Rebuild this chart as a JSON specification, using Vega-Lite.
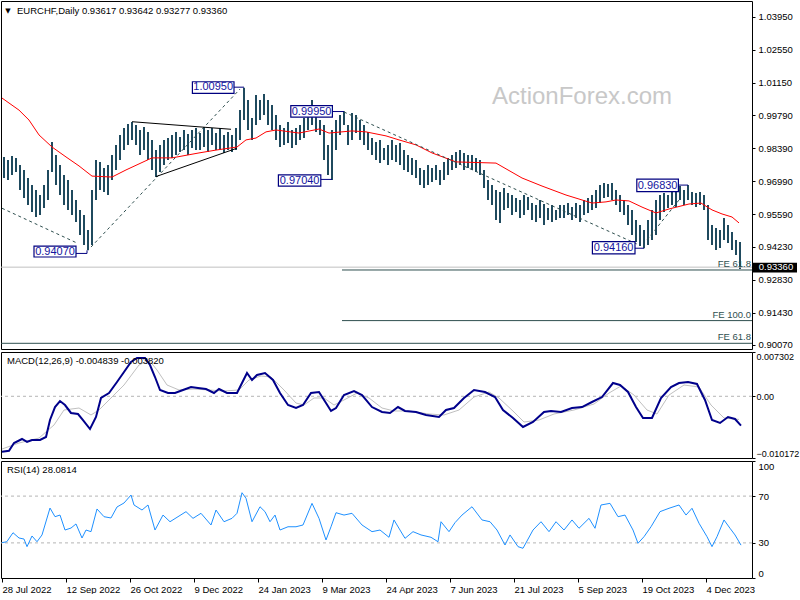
{
"$schema": "https://vega.github.io/schema/vega-lite/v6.json",
"background": "white",
"padding": {"left": -3, "top": 0, "right": 0, "bottom": 0},
"autosize": {"type": "pad"},
"spacing": 3,
"bounds": "flush",
"config": {
  "font": "Liberation Sans",
  "padding": {"left": -3, "top": 0, "right": 0, "bottom": 0},
  "view": {"stroke": "#000000", "strokeWidth": 1},
  "axis": {"labelFont": "Liberation Sans", "labelFontSize": 9.5, "labelColor": "#000000", "tickColor": "#000000", "tickSize": 3, "domain": false, "grid": false, "labelPadding": 3, "labelOverlap": false}
},
"datasets": {
  "bars": [
    {"d":1,"h":0.9802,"l":0.9713},{"d":3,"h":0.9789,"l":0.9705},{"d":5,"h":0.9806,"l":0.9726},{"d":7,"h":0.9798,"l":0.9738},
    {"d":9,"h":0.9768,"l":0.9662},{"d":11,"h":0.9747,"l":0.9628},{"d":13,"h":0.9713,"l":0.9599},{"d":15,"h":0.9683,"l":0.9569},
    {"d":17,"h":0.9662,"l":0.9548},{"d":19,"h":0.9641,"l":0.9557},{"d":21,"h":0.9683,"l":0.9586},{"d":23,"h":0.9747,"l":0.9620},
    {"d":25,"h":0.9865,"l":0.9738},{"d":27,"h":0.9810,"l":0.9683},{"d":29,"h":0.9768,"l":0.9641},{"d":31,"h":0.9726,"l":0.9599},
    {"d":33,"h":0.9705,"l":0.9578},{"d":35,"h":0.9662,"l":0.9557},{"d":37,"h":0.9620,"l":0.9527},{"d":39,"h":0.9578,"l":0.9472},
    {"d":41,"h":0.9557,"l":0.9430},{"d":43,"h":0.9493,"l":0.9407},{"d":45,"h":0.9662,"l":0.9430},{"d":47,"h":0.9789,"l":0.9620},
    {"d":49,"h":0.9781,"l":0.9662},{"d":51,"h":0.9755,"l":0.9654},{"d":53,"h":0.9768,"l":0.9641},{"d":55,"h":0.9810,"l":0.9705},
    {"d":57,"h":0.9853,"l":0.9747},{"d":59,"h":0.9895,"l":0.9789},{"d":61,"h":0.9924,"l":0.9831},{"d":63,"h":0.9941,"l":0.9853},
    {"d":65,"h":0.9950,"l":0.9874},{"d":67,"h":0.9937,"l":0.9853},{"d":69,"h":0.9916,"l":0.9810},{"d":71,"h":0.9929,"l":0.9831},
    {"d":73,"h":0.9908,"l":0.9789},{"d":75,"h":0.9874,"l":0.9747},{"d":77,"h":0.9831,"l":0.9717},{"d":79,"h":0.9853,"l":0.9738},
    {"d":81,"h":0.9874,"l":0.9768},{"d":83,"h":0.9882,"l":0.9789},{"d":85,"h":0.9895,"l":0.9798},{"d":87,"h":0.9908,"l":0.9810},
    {"d":89,"h":0.9886,"l":0.9823},{"d":91,"h":0.9916,"l":0.9831},{"d":93,"h":0.9899,"l":0.9810},{"d":95,"h":0.9916,"l":0.9840},
    {"d":97,"h":0.9924,"l":0.9831},{"d":99,"h":0.9903,"l":0.9831},{"d":101,"h":0.9929,"l":0.9844},{"d":103,"h":0.9916,"l":0.9823},
    {"d":105,"h":0.9924,"l":0.9853},{"d":107,"h":0.9903,"l":0.9831},{"d":109,"h":0.9924,"l":0.9831},{"d":111,"h":0.9895,"l":0.9819},
    {"d":113,"h":0.9908,"l":0.9831},{"d":115,"h":0.9895,"l":0.9823},{"d":117,"h":0.9924,"l":0.9831},{"d":119,"h":1.0001,"l":0.9874},
    {"d":121,"h":1.0095,"l":0.9958},{"d":123,"h":1.0043,"l":0.9916},{"d":125,"h":0.9967,"l":0.9874},{"d":127,"h":1.0064,"l":0.9937},
    {"d":129,"h":1.0043,"l":0.9958},{"d":131,"h":1.0068,"l":0.9979},{"d":133,"h":1.0043,"l":0.9937},{"d":135,"h":1.0022,"l":0.9916},
    {"d":137,"h":0.9979,"l":0.9874},{"d":139,"h":0.9937,"l":0.9844},{"d":141,"h":0.9924,"l":0.9853},{"d":143,"h":0.9950,"l":0.9861},
    {"d":145,"h":0.9916,"l":0.9840},{"d":147,"h":0.9924,"l":0.9853},{"d":149,"h":0.9937,"l":0.9874},{"d":151,"h":0.9967,"l":0.9882},
    {"d":153,"h":0.9992,"l":0.9916},{"d":155,"h":1.0043,"l":0.9937},{"d":157,"h":0.9979,"l":0.9908},{"d":159,"h":0.9958,"l":0.9895},
    {"d":161,"h":0.9937,"l":0.9789},{"d":163,"h":0.9853,"l":0.9726},{"d":165,"h":0.9916,"l":0.9704},{"d":167,"h":0.9958,"l":0.9831},
    {"d":169,"h":0.9979,"l":0.9895},{"d":171,"h":0.9995,"l":0.9937},{"d":173,"h":0.9937,"l":0.9853},{"d":175,"h":0.9988,"l":0.9874},
    {"d":177,"h":0.9979,"l":0.9903},{"d":179,"h":0.9958,"l":0.9874},{"d":181,"h":0.9937,"l":0.9853},{"d":183,"h":0.9908,"l":0.9831},
    {"d":185,"h":0.9882,"l":0.9810},{"d":187,"h":0.9865,"l":0.9789},{"d":189,"h":0.9874,"l":0.9776},{"d":191,"h":0.9840,"l":0.9789},
    {"d":193,"h":0.9853,"l":0.9768},{"d":195,"h":0.9874,"l":0.9789},{"d":197,"h":0.9853,"l":0.9781},{"d":199,"h":0.9861,"l":0.9768},
    {"d":201,"h":0.9831,"l":0.9747},{"d":203,"h":0.9810,"l":0.9738},{"d":205,"h":0.9798,"l":0.9726},{"d":207,"h":0.9789,"l":0.9713},
    {"d":209,"h":0.9755,"l":0.9683},{"d":211,"h":0.9747,"l":0.9671},{"d":213,"h":0.9768,"l":0.9683},{"d":215,"h":0.9755,"l":0.9696},
    {"d":217,"h":0.9768,"l":0.9705},{"d":219,"h":0.9747,"l":0.9683},{"d":221,"h":0.9781,"l":0.9705},{"d":223,"h":0.9798,"l":0.9726},
    {"d":225,"h":0.9810,"l":0.9747},{"d":227,"h":0.9823,"l":0.9755},{"d":229,"h":0.9831,"l":0.9768},{"d":231,"h":0.9819,"l":0.9747},
    {"d":233,"h":0.9810,"l":0.9755},{"d":235,"h":0.9810,"l":0.9747},{"d":237,"h":0.9798,"l":0.9738},{"d":239,"h":0.9789,"l":0.9726},
    {"d":241,"h":0.9747,"l":0.9671},{"d":243,"h":0.9705,"l":0.9620},{"d":245,"h":0.9683,"l":0.9599},{"d":247,"h":0.9662,"l":0.9535},
    {"d":249,"h":0.9654,"l":0.9523},{"d":251,"h":0.9671,"l":0.9578},{"d":253,"h":0.9650,"l":0.9586},{"d":255,"h":0.9641,"l":0.9557},
    {"d":257,"h":0.9628,"l":0.9569},{"d":259,"h":0.9620,"l":0.9544},{"d":261,"h":0.9641,"l":0.9557},{"d":263,"h":0.9633,"l":0.9578},
    {"d":265,"h":0.9607,"l":0.9535},{"d":267,"h":0.9599,"l":0.9527},{"d":269,"h":0.9620,"l":0.9544},{"d":271,"h":0.9603,"l":0.9514},
    {"d":273,"h":0.9586,"l":0.9535},{"d":275,"h":0.9599,"l":0.9527},{"d":277,"h":0.9578,"l":0.9535},{"d":279,"h":0.9599,"l":0.9544},
    {"d":281,"h":0.9599,"l":0.9544},{"d":283,"h":0.9607,"l":0.9557},{"d":285,"h":0.9590,"l":0.9535},{"d":287,"h":0.9607,"l":0.9544},
    {"d":289,"h":0.9599,"l":0.9527},{"d":291,"h":0.9620,"l":0.9557},{"d":293,"h":0.9628,"l":0.9565},{"d":295,"h":0.9641,"l":0.9578},
    {"d":297,"h":0.9662,"l":0.9586},{"d":299,"h":0.9683,"l":0.9607},{"d":301,"h":0.9692,"l":0.9628},{"d":303,"h":0.9688,"l":0.9633},
    {"d":305,"h":0.9692,"l":0.9620},{"d":307,"h":0.9662,"l":0.9599},{"d":309,"h":0.9641,"l":0.9569},{"d":311,"h":0.9620,"l":0.9557},
    {"d":313,"h":0.9599,"l":0.9514},{"d":315,"h":0.9578,"l":0.9472},{"d":317,"h":0.9535,"l":0.9442},{"d":319,"h":0.9514,"l":0.9425},
    {"d":321,"h":0.9493,"l":0.9416},{"d":323,"h":0.9535,"l":0.9430},{"d":325,"h":0.9578,"l":0.9451},{"d":327,"h":0.9620,"l":0.9472},
    {"d":329,"h":0.9641,"l":0.9535},{"d":331,"h":0.9650,"l":0.9569},{"d":333,"h":0.9641,"l":0.9586},{"d":335,"h":0.9662,"l":0.9599},
    {"d":337,"h":0.9654,"l":0.9590},{"d":339,"h":0.9679,"l":0.9620},{"d":341,"h":0.9662,"l":0.9599},{"d":343,"h":0.9683,"l":0.9620},
    {"d":345,"h":0.9654,"l":0.9599},{"d":347,"h":0.9650,"l":0.9590},{"d":349,"h":0.9654,"l":0.9599},{"d":351,"h":0.9641,"l":0.9578},
    {"d":353,"h":0.9599,"l":0.9451},{"d":355,"h":0.9514,"l":0.9430},{"d":357,"h":0.9502,"l":0.9408},{"d":359,"h":0.9493,"l":0.9417},
    {"d":361,"h":0.9544,"l":0.9451},{"d":363,"h":0.9514,"l":0.9438},{"d":365,"h":0.9485,"l":0.9408},{"d":367,"h":0.9451,"l":0.9387},
    {"d":369,"h":0.9442,"l":0.9328}
  ],
  "ma": [
    {"d":0,"v":1.0051},{"d":8.5,"v":1.0000},{"d":13.5,"v":0.9958},{"d":18.5,"v":0.9895},{"d":25,"v":0.9844},{"d":32,"v":0.9802},
    {"d":38.5,"v":0.9764},{"d":45,"v":0.9721},{"d":55,"v":0.9717},{"d":62,"v":0.9747},{"d":75,"v":0.9798},{"d":85,"v":0.9798},
    {"d":98.5,"v":0.9819},{"d":107,"v":0.9831},{"d":117.5,"v":0.9844},{"d":122,"v":0.9874},{"d":127,"v":0.9882},{"d":132,"v":0.9908},
    {"d":137,"v":0.9916},{"d":148.5,"v":0.9903},{"d":158.5,"v":0.9920},{"d":163.5,"v":0.9903},{"d":175,"v":0.9912},{"d":182,"v":0.9908},
    {"d":192,"v":0.9891},{"d":198.5,"v":0.9874},{"d":207,"v":0.9853},{"d":215,"v":0.9819},{"d":227,"v":0.9781},{"d":247,"v":0.9776},
    {"d":260,"v":0.9713},{"d":270,"v":0.9679},{"d":282,"v":0.9641},{"d":295,"v":0.9607},{"d":302,"v":0.9612},{"d":307,"v":0.9620},
    {"d":313.5,"v":0.9616},{"d":320,"v":0.9590},{"d":327,"v":0.9565},{"d":333.5,"v":0.9582},{"d":343.5,"v":0.9603},{"d":349.5,"v":0.9607},
    {"d":355,"v":0.9578},{"d":360,"v":0.9561},{"d":365,"v":0.9548},{"d":368.5,"v":0.9523}
  ],
  "macd": [
    {"d":0,"m":-0.00913},{"d":3.5,"m":-0.00897},{"d":6,"m":-0.00770},{"d":10,"m":-0.00704},{"d":12.5,"m":-0.00753},{"d":15,"m":-0.00720},
    {"d":19,"m":-0.00720},{"d":22,"m":-0.00671},{"d":24,"m":-0.00391},{"d":26.5,"m":-0.00177},{"d":29,"m":-0.00078},{"d":31.5,"m":-0.00144},
    {"d":34.5,"m":-0.00275},{"d":38,"m":-0.00292},{"d":40.5,"m":-0.00391},{"d":44,"m":-0.00539},{"d":47,"m":-0.00341},{"d":49.5,"m":-0.00028},
    {"d":53.5,"m":0.00054},{"d":57.5,"m":0.00236},{"d":61,"m":0.00401},{"d":64.5,"m":0.00565},{"d":67.5,"m":0.00631},{"d":71.5,"m":0.00631},
    {"d":74,"m":0.00516},{"d":76.5,"m":0.00318},{"d":79,"m":0.00104},{"d":83,"m":0.00054},{"d":86.5,"m":0.00054},{"d":90.5,"m":0.00104},
    {"d":94.5,"m":0.00153},{"d":98,"m":0.00137},{"d":102,"m":0.00120},{"d":106,"m":0.00054},{"d":108.5,"m":0.00120},{"d":112.5,"m":0.00054},
    {"d":117.5,"m":0.00054},{"d":120,"m":0.00219},{"d":122.5,"m":0.00384},{"d":125,"m":0.00269},{"d":127.5,"m":0.00351},{"d":131.5,"m":0.00384},
    {"d":135.5,"m":0.00269},{"d":139,"m":0.00054},{"d":143,"m":-0.00144},{"d":147,"m":-0.00193},{"d":150.5,"m":-0.00144},{"d":154.5,"m":0.00054},
    {"d":158.5,"m":0.00071},{"d":162,"m":-0.00111},{"d":164.5,"m":-0.00242},{"d":167,"m":-0.00193},{"d":171,"m":0.00021},{"d":176,"m":0.00087},
    {"d":180,"m":0.00021},{"d":185,"m":-0.00177},{"d":190,"m":-0.00259},{"d":194,"m":-0.00275},{"d":198,"m":-0.00177},{"d":201.5,"m":-0.00242},
    {"d":207,"m":-0.00259},{"d":212,"m":-0.00308},{"d":218.5,"m":-0.00341},{"d":222,"m":-0.00226},{"d":226,"m":-0.00193},{"d":231,"m":-0.00028},
    {"d":236,"m":0.00104},{"d":241.5,"m":0.00071},{"d":246.5,"m":-0.00012},{"d":250.5,"m":-0.00226},{"d":255.5,"m":-0.00358},{"d":260.5,"m":-0.00506},
    {"d":265.5,"m":-0.00424},{"d":271,"m":-0.00259},{"d":274.5,"m":-0.00242},{"d":279.5,"m":-0.00259},{"d":285,"m":-0.00193},{"d":290,"m":-0.00177},
    {"d":295,"m":-0.00094},{"d":300,"m":-0.00012},{"d":305.5,"m":0.00219},{"d":309,"m":0.00186},{"d":313,"m":0.00071},{"d":317,"m":-0.00177},
    {"d":320.5,"m":-0.00358},{"d":325,"m":-0.00358},{"d":329.5,"m":-0.00028},{"d":334.5,"m":0.00153},{"d":338.5,"m":0.00219},{"d":343,"m":0.00236},
    {"d":347.5,"m":0.00203},{"d":351.5,"m":-0.00061},{"d":355,"m":-0.00391},{"d":359,"m":-0.00440},{"d":363,"m":-0.00341},{"d":366.5,"m":-0.00374},
    {"d":369.5,"m":-0.004839}
  ],
  "sig": [
    {"d":0,"s":-0.00869},{"d":8.5,"s":-0.00770},{"d":18.5,"s":-0.00688},{"d":26,"s":-0.00473},{"d":31,"s":-0.00226},{"d":38.5,"s":-0.00193},
    {"d":44.5,"s":-0.00308},{"d":48.5,"s":-0.00226},{"d":53.5,"s":-0.00061},{"d":61,"s":0.00186},{"d":68.5,"s":0.00516},{"d":73.5,"s":0.00598},
    {"d":77.5,"s":0.00433},{"d":82.5,"s":0.00186},{"d":88.5,"s":0.00104},{"d":96,"s":0.00120},{"d":103.5,"s":0.00104},{"d":111,"s":0.00087},
    {"d":118.5,"s":0.00104},{"d":123.5,"s":0.00269},{"d":129.5,"s":0.00335},{"d":134.5,"s":0.00318},{"d":141,"s":0.00104},{"d":147,"s":-0.00111},
    {"d":151,"s":-0.00144},{"d":156,"s":-0.00028},{"d":161,"s":-0.00028},{"d":166,"s":-0.00144},{"d":171,"s":-0.00061},{"d":177.5,"s":0.00054},
    {"d":183.5,"s":-0.00028},{"d":190,"s":-0.00193},{"d":196,"s":-0.00242},{"d":203.5,"s":-0.00242},{"d":213.5,"s":-0.00292},{"d":221,"s":-0.00308},
    {"d":228.5,"s":-0.00226},{"d":236,"s":-0.00012},{"d":243.5,"s":0.00071},{"d":248.5,"s":-0.00028},{"d":256,"s":-0.00259},{"d":261,"s":-0.00424},
    {"d":268.5,"s":-0.00391},{"d":276,"s":-0.00292},{"d":286,"s":-0.00226},{"d":296,"s":-0.00127},{"d":303.5,"s":0.00054},{"d":309.5,"s":0.00170},
    {"d":316,"s":0.00021},{"d":322.5,"s":-0.00226},{"d":327.5,"s":-0.00292},{"d":333.5,"s":0.00021},{"d":341,"s":0.00186},{"d":348.5,"s":0.00153},
    {"d":354.5,"s":-0.00144},{"d":361,"s":-0.00358},{"d":368.5,"s":-0.00382}
  ],
  "rsi": [
    {"d":0,"r":30.2},{"d":2.4,"r":31.0},{"d":5.5,"r":38.7},{"d":8.5,"r":34.2},{"d":11,"r":33.3},{"d":12.5,"r":26.8},{"d":15,"r":35.9},
    {"d":17.5,"r":31.0},{"d":20,"r":36.8},{"d":24,"r":59.8},{"d":26.5,"r":52.4},{"d":29,"r":53.8},{"d":31.5,"r":41.0},{"d":34.5,"r":42.7},
    {"d":37,"r":46.2},{"d":40,"r":34.2},{"d":42,"r":41.0},{"d":44.5,"r":39.6},{"d":47.5,"r":59.0},{"d":51,"r":52.4},{"d":54.5,"r":51.3},
    {"d":57.5,"r":60.7},{"d":61,"r":64.1},{"d":64.5,"r":70.9},{"d":66,"r":62.4},{"d":70,"r":58.1},{"d":73,"r":62.4},{"d":76.5,"r":41.0},
    {"d":80.5,"r":53.8},{"d":84,"r":48.1},{"d":88,"r":52.4},{"d":92,"r":56.7},{"d":95.5,"r":51.0},{"d":99.5,"r":55.3},{"d":104.5,"r":45.3},
    {"d":107,"r":58.1},{"d":111,"r":48.1},{"d":115,"r":51.0},{"d":117.5,"r":55.3},{"d":120,"r":72.9},{"d":122,"r":68.1},{"d":125,"r":48.1},
    {"d":129,"r":60.9},{"d":131.5,"r":56.7},{"d":134,"r":48.1},{"d":136.5,"r":53.8},{"d":139,"r":41.0},{"d":143,"r":43.8},{"d":147,"r":43.8},
    {"d":150.5,"r":45.3},{"d":155,"r":63.8},{"d":158.5,"r":51.0},{"d":162,"r":32.5},{"d":164.5,"r":43.8},{"d":167,"r":55.8},{"d":171,"r":53.8},
    {"d":175,"r":55.3},{"d":180,"r":45.3},{"d":185,"r":39.6},{"d":189,"r":41.0},{"d":193.5,"r":34.8},{"d":196,"r":49.6},{"d":199,"r":41.0},
    {"d":201.5,"r":33.9},{"d":205.5,"r":39.6},{"d":209.5,"r":36.8},{"d":214.5,"r":34.8},{"d":218,"r":31.0},{"d":219.5,"r":48.1},{"d":223.5,"r":39.6},
    {"d":226.5,"r":47.3},{"d":230,"r":53.8},{"d":235,"r":60.9},{"d":240,"r":49.6},{"d":244,"r":48.1},{"d":247.5,"r":41.0},{"d":251.5,"r":28.2},
    {"d":254,"r":36.8},{"d":258,"r":26.8},{"d":260.5,"r":25.4},{"d":265.5,"r":41.0},{"d":269.5,"r":48.1},{"d":273.5,"r":39.6},{"d":277,"r":48.1},
    {"d":281,"r":41.0},{"d":285,"r":49.6},{"d":288.5,"r":42.5},{"d":293.5,"r":51.0},{"d":296.5,"r":42.5},{"d":299.5,"r":62.4},{"d":304,"r":63.8},
    {"d":308,"r":52.4},{"d":311.5,"r":53.8},{"d":315.5,"r":41.0},{"d":318,"r":29.7},{"d":321,"r":35.3},{"d":324.5,"r":43.8},{"d":329,"r":56.7},
    {"d":333.5,"r":59.6},{"d":338.5,"r":62.4},{"d":342,"r":53.8},{"d":345,"r":59.6},{"d":348.5,"r":46.8},{"d":352.5,"r":35.3},{"d":355,"r":26.8},
    {"d":357.5,"r":35.3},{"d":361,"r":49.6},{"d":364,"r":42.5},{"d":366.5,"r":36.8},{"d":369.5,"r":28.1}
  ],
  "dash": [
    {"d1":0,"p1":0.9585,"d2":37.5,"p2":0.9438},
    {"d1":44.5,"p1":0.9421,"d2":119,"p2":1.0089},
    {"d1":171,"p1":0.9992,"d2":318.5,"p2":0.9430},
    {"d1":322.5,"p1":0.9451,"d2":338.5,"p2":0.9620}
  ],
  "tri": [
    {"d1":65,"p1":0.9951,"d2":114.5,"p2":0.9919},
    {"d1":77,"p1":0.9719,"d2":117.5,"p2":0.9839}
  ],
  "fe": [
    {"n":"FE 61.8","d1":170,"d2":375,"p":0.9324},
    {"n":"FE 100.0","d1":170,"d2":375,"p":0.9110},
    {"n":"FE 61.8","d1":-0.5,"d2":375,"p":0.9014}
  ],
  "conn": [
    {"d1":37,"d2":42.5,"p1":0.9394,"p2":0.9394},
    {"d1":42.5,"d2":42.5,"p1":0.9394,"p2":0.9407},
    {"d1":116,"d2":121,"p1":1.0097,"p2":1.0097},
    {"d1":165.2,"d2":171,"p1":0.9994,"p2":0.9994},
    {"d1":159.4,"d2":165,"p1":0.9707,"p2":0.9707},
    {"d1":316.5,"d2":321,"p1":0.9416,"p2":0.9416},
    {"d1":338.2,"d2":343,"p1":0.9683,"p2":0.9683}
  ],
  "lbl": [
    {"t":"0.94070","d1":16,"d2":37,"p1":0.9425,"p2":0.9379,"dm":26.5,"pm":0.9402},
    {"t":"1.00950","d1":95.2,"d2":116,"p1":1.0120,"p2":1.0071,"dm":105.6,"pm":1.0096},
    {"t":"0.99950","d1":144.4,"d2":165.2,"p1":1.0019,"p2":0.9970,"dm":154.8,"pm":0.9994},
    {"t":"0.97040","d1":138.2,"d2":159.4,"p1":0.9726,"p2":0.9679,"dm":148.8,"pm":0.9702},
    {"t":"0.94160","d1":295.2,"d2":316.5,"p1":0.9444,"p2":0.9392,"dm":305.8,"pm":0.9418},
    {"t":"0.96830","d1":317.4,"d2":338.2,"p1":0.9708,"p2":0.9655,"dm":327.8,"pm":0.9681}
  ],
  "mtext": [
    {"t":"EURCHF,Daily  0.93617 0.93642 0.93277 0.93360","d":7.5,"p":1.0419}
  ],
  "wm": [
    {"t":"ActionForex.com","d":290,"p":1.0055}
  ],
  "tag": [
    {"t":"0.93360","p":0.9336,"d":387,"d1":375.5,"d2":397.5,"p1":0.9355,"p2":0.9313}
  ],
  "mtitle": [
    {"t":"MACD(12,26,9) -0.004839 -0.003820","d":2.5,"m":0.00587}
  ],
  "rtitle": [
    {"t":"RSI(14) 28.0814","d":2.5,"r":92.3}
  ]
},
"vconcat": [
  {
    "width": 751, "height": 348,
    "layer": [
      {"data": {"name": "bars"}, "mark": {"type": "rule", "color": "#1f4a5e", "strokeWidth": 2},
       "encoding": {
         "x": {"field": "d", "type": "quantitative", "scale": {"domain": [-0.5, 375], "nice": false, "zero": false}, "axis": null},
         "y": {"field": "l", "type": "quantitative", "scale": {"domain": [0.89899, 1.04614], "nice": false, "zero": false},
               "axis": {"orient": "right", "title": null, "values": [0.9007,0.9143,0.9283,0.9423,0.9559,0.9699,0.9839,0.9979,1.0115,1.0255,1.0395], "format": ".5f", "labelFlush": false, "labelOverlap": false}},
         "y2": {"field": "h"}}},
      {"data": {"name": "tag"}, "mark": {"type": "rule", "color": "#c0c0c0", "strokeWidth": 1},
       "encoding": {"y": {"field": "p", "type": "quantitative", "axis": {"orient": "right", "title": null, "values": [0.9007,0.9143,0.9283,0.9423,0.9559,0.9699,0.9839,0.9979,1.0115,1.0255,1.0395], "format": ".5f", "labelFlush": false, "labelOverlap": false}}}},
      {"data": {"name": "fe"}, "mark": {"type": "rule", "color": "#2f4f4f", "strokeWidth": 1},
       "encoding": {"x": {"field": "d1", "type": "quantitative", "axis": null}, "x2": {"field": "d2"}, "y": {"field": "p", "type": "quantitative", "axis": {"orient": "right", "title": null, "values": [0.9007,0.9143,0.9283,0.9423,0.9559,0.9699,0.9839,0.9979,1.0115,1.0255,1.0395], "format": ".5f", "labelFlush": false, "labelOverlap": false}}}},
      {"data": {"name": "fe"}, "mark": {"type": "text", "color": "#2f4f4f", "fontSize": 9.5, "align": "right", "baseline": "bottom", "dx": -1, "dy": -1},
       "encoding": {"x": {"field": "d2", "type": "quantitative", "axis": null}, "y": {"field": "p", "type": "quantitative", "axis": {"orient": "right", "title": null, "values": [0.9007,0.9143,0.9283,0.9423,0.9559,0.9699,0.9839,0.9979,1.0115,1.0255,1.0395], "format": ".5f", "labelFlush": false, "labelOverlap": false}}, "text": {"field": "n"}}},
      {"data": {"name": "wm"}, "mark": {"type": "text", "color": "#c8c8c8", "fontSize": 24, "align": "center", "baseline": "middle"},
       "encoding": {"x": {"field": "d", "type": "quantitative", "axis": null}, "y": {"field": "p", "type": "quantitative", "axis": {"orient": "right", "title": null, "values": [0.9007,0.9143,0.9283,0.9423,0.9559,0.9699,0.9839,0.9979,1.0115,1.0255,1.0395], "format": ".5f", "labelFlush": false, "labelOverlap": false}}, "text": {"field": "t"}}},
      {"data": {"name": "ma"}, "mark": {"type": "line", "color": "#ff0000", "strokeWidth": 1},
       "encoding": {"x": {"field": "d", "type": "quantitative", "axis": null}, "y": {"field": "v", "type": "quantitative", "axis": {"orient": "right", "title": null, "values": [0.9007,0.9143,0.9283,0.9423,0.9559,0.9699,0.9839,0.9979,1.0115,1.0255,1.0395], "format": ".5f", "labelFlush": false, "labelOverlap": false}}}},
      {"data": {"name": "dash"}, "mark": {"type": "rule", "color": "#2f4f4f", "strokeWidth": 1, "strokeDash": [3, 3]},
       "encoding": {"x": {"field": "d1", "type": "quantitative", "axis": null}, "x2": {"field": "d2"}, "y": {"field": "p1", "type": "quantitative", "axis": {"orient": "right", "title": null, "values": [0.9007,0.9143,0.9283,0.9423,0.9559,0.9699,0.9839,0.9979,1.0115,1.0255,1.0395], "format": ".5f", "labelFlush": false, "labelOverlap": false}}, "y2": {"field": "p2"}}},
      {"data": {"name": "tri"}, "mark": {"type": "rule", "color": "#000000", "strokeWidth": 1},
       "encoding": {"x": {"field": "d1", "type": "quantitative", "axis": null}, "x2": {"field": "d2"}, "y": {"field": "p1", "type": "quantitative", "axis": {"orient": "right", "title": null, "values": [0.9007,0.9143,0.9283,0.9423,0.9559,0.9699,0.9839,0.9979,1.0115,1.0255,1.0395], "format": ".5f", "labelFlush": false, "labelOverlap": false}}, "y2": {"field": "p2"}}},
      {"data": {"name": "conn"}, "mark": {"type": "rule", "color": "#000080", "strokeWidth": 1},
       "encoding": {"x": {"field": "d1", "type": "quantitative", "axis": null}, "x2": {"field": "d2"}, "y": {"field": "p1", "type": "quantitative", "axis": {"orient": "right", "title": null, "values": [0.9007,0.9143,0.9283,0.9423,0.9559,0.9699,0.9839,0.9979,1.0115,1.0255,1.0395], "format": ".5f", "labelFlush": false, "labelOverlap": false}}, "y2": {"field": "p2"}}},
      {"data": {"name": "lbl"}, "mark": {"type": "rect", "fill": "#ffffff", "stroke": "#000080", "strokeWidth": 1.2},
       "encoding": {"x": {"field": "d1", "type": "quantitative", "axis": null}, "x2": {"field": "d2"}, "y": {"field": "p1", "type": "quantitative", "axis": {"orient": "right", "title": null, "values": [0.9007,0.9143,0.9283,0.9423,0.9559,0.9699,0.9839,0.9979,1.0115,1.0255,1.0395], "format": ".5f", "labelFlush": false, "labelOverlap": false}}, "y2": {"field": "p2"}}},
      {"data": {"name": "lbl"}, "mark": {"type": "text", "color": "#1414a0", "fontSize": 11, "align": "center", "baseline": "middle"},
       "encoding": {"x": {"field": "dm", "type": "quantitative", "axis": null}, "y": {"field": "pm", "type": "quantitative", "axis": {"orient": "right", "title": null, "values": [0.9007,0.9143,0.9283,0.9423,0.9559,0.9699,0.9839,0.9979,1.0115,1.0255,1.0395], "format": ".5f", "labelFlush": false, "labelOverlap": false}}, "text": {"field": "t"}}},
      {"data": {"name": "mtext"}, "mark": {"type": "text", "color": "#000000", "fontSize": 9.5, "align": "left", "baseline": "middle"},
       "encoding": {"x": {"field": "d", "type": "quantitative", "axis": null}, "y": {"field": "p", "type": "quantitative", "axis": {"orient": "right", "title": null, "values": [0.9007,0.9143,0.9283,0.9423,0.9559,0.9699,0.9839,0.9979,1.0115,1.0255,1.0395], "format": ".5f", "labelFlush": false, "labelOverlap": false}}, "text": {"field": "t"}}},
      {"data": {"name": "mtext"}, "mark": {"type": "text", "color": "#000000", "fontSize": 7, "font": "DejaVu Sans", "align": "center", "baseline": "middle", "dx": -9, "text": "▼"},
       "encoding": {"x": {"field": "d", "type": "quantitative", "axis": null}, "y": {"field": "p", "type": "quantitative", "axis": {"orient": "right", "title": null, "values": [0.9007,0.9143,0.9283,0.9423,0.9559,0.9699,0.9839,0.9979,1.0115,1.0255,1.0395], "format": ".5f", "labelFlush": false, "labelOverlap": false}}}},
      {"data": {"name": "tag"}, "mark": {"type": "rect", "fill": "#000000"},
       "encoding": {"x": {"field": "d1", "type": "quantitative", "axis": null}, "x2": {"field": "d2"}, "y": {"field": "p1", "type": "quantitative", "axis": {"orient": "right", "title": null, "values": [0.9007,0.9143,0.9283,0.9423,0.9559,0.9699,0.9839,0.9979,1.0115,1.0255,1.0395], "format": ".5f", "labelFlush": false, "labelOverlap": false}}, "y2": {"field": "p2"}}},
      {"data": {"name": "tag"}, "mark": {"type": "text", "color": "#ffffff", "fontSize": 9.5, "align": "center", "baseline": "middle"},
       "encoding": {"x": {"field": "d", "type": "quantitative", "axis": null}, "y": {"field": "p", "type": "quantitative", "axis": {"orient": "right", "title": null, "values": [0.9007,0.9143,0.9283,0.9423,0.9559,0.9699,0.9839,0.9979,1.0115,1.0255,1.0395], "format": ".5f", "labelFlush": false, "labelOverlap": false}}, "text": {"field": "t"}}}
    ]
  },
  {
    "width": 751, "height": 106,
    "layer": [
      {"data": {"values": [{"z": 0}]}, "mark": {"type": "rule", "color": "#b4b4b4", "strokeDash": [3, 3], "strokeWidth": 1},
       "encoding": {"y": {"field": "z", "type": "quantitative", "axis": {"orient": "right", "title": null, "values": [-0.010172, 0, 0.007302], "labelFlush": true, "labelOverlap": false, "labelFontSize": 9, "labelPadding": 1, "labelExpr": "datum.value == 0 ? '0.00' : format(datum.value, '.6f')"}}}},
      {"data": {"name": "sig"}, "mark": {"type": "line", "color": "#c0c0c0", "strokeWidth": 1},
       "encoding": {"x": {"field": "d", "type": "quantitative", "axis": null}, "y": {"field": "s", "type": "quantitative", "axis": {"orient": "right", "title": null, "values": [-0.010172, 0, 0.007302], "labelFlush": true, "labelOverlap": false, "labelFontSize": 9, "labelPadding": 1, "labelExpr": "datum.value == 0 ? '0.00' : format(datum.value, '.6f')"}}}},
      {"data": {"name": "macd"}, "mark": {"type": "line", "color": "#00008b", "strokeWidth": 2},
       "encoding": {
         "x": {"field": "d", "type": "quantitative", "scale": {"domain": [-0.5, 375], "nice": false, "zero": false}, "axis": null},
         "y": {"field": "m", "type": "quantitative", "scale": {"domain": [-0.010172, 0.007302], "nice": false, "zero": false},
               "axis": {"orient": "right", "title": null, "values": [-0.010172, 0, 0.007302], "labelFlush": true, "labelOverlap": false, "labelFontSize": 9, "labelPadding": 1, "labelExpr": "datum.value == 0 ? '0.00' : format(datum.value, '.6f')"}}}},
      {"data": {"name": "mtitle"}, "mark": {"type": "text", "color": "#000000", "fontSize": 9.5, "align": "left", "baseline": "middle"},
       "encoding": {"x": {"field": "d", "type": "quantitative", "axis": null}, "y": {"field": "m", "type": "quantitative", "axis": {"orient": "right", "title": null, "values": [-0.010172, 0, 0.007302], "labelFlush": true, "labelOverlap": false, "labelFontSize": 9, "labelPadding": 1, "labelExpr": "datum.value == 0 ? '0.00' : format(datum.value, '.6f')"}}, "text": {"field": "t"}}}
    ]
  },
  {
    "width": 751, "height": 117,
    "layer": [
      {"data": {"values": [{"v": 30}, {"v": 70}]}, "mark": {"type": "rule", "color": "#b4b4b4", "strokeDash": [3, 3], "strokeWidth": 1},
       "encoding": {"y": {"field": "v", "type": "quantitative", "axis": {"orient": "right", "title": null, "values": [0, 30, 70, 100], "labelFlush": true, "labelOverlap": false}}}},
      {"data": {"name": "rsi"}, "mark": {"type": "line", "color": "#1e90ff", "strokeWidth": 1},
       "encoding": {
         "x": {"field": "d", "type": "quantitative", "scale": {"domain": [-0.5, 375], "nice": false, "zero": false},
               "axis": {"orient": "bottom", "title": null, "values": [0,32,64,96,128,160,192,224,256,288,320,352], "labelAlign": "left", "labelFlush": false, "labelOverlap": false, "tickSize": 4, "labelPadding": 2,
                        "labelExpr": "['28 Jul 2022','12 Sep 2022','26 Oct 2022','9 Dec 2022','24 Jan 2023','9 Mar 2023','24 Apr 2023','7 Jun 2023','21 Jul 2023','5 Sep 2023','19 Oct 2023','4 Dec 2023'][round(datum.value/32)]"}},
         "y": {"field": "r", "type": "quantitative", "scale": {"domain": [0, 100], "nice": false, "zero": false},
               "axis": {"orient": "right", "title": null, "values": [0, 30, 70, 100], "labelFlush": true, "labelOverlap": false}}}},
      {"data": {"name": "rtitle"}, "mark": {"type": "text", "color": "#000000", "fontSize": 9.5, "align": "left", "baseline": "middle"},
       "encoding": {"x": {"field": "d", "type": "quantitative", "axis": {"orient": "bottom", "title": null, "values": [0,32,64,96,128,160,192,224,256,288,320,352], "labelAlign": "left", "labelFlush": false, "labelOverlap": false, "tickSize": 4, "labelPadding": 2,
                        "labelExpr": "['28 Jul 2022','12 Sep 2022','26 Oct 2022','9 Dec 2022','24 Jan 2023','9 Mar 2023','24 Apr 2023','7 Jun 2023','21 Jul 2023','5 Sep 2023','19 Oct 2023','4 Dec 2023'][round(datum.value/32)]"}},
                    "y": {"field": "r", "type": "quantitative", "axis": {"orient": "right", "title": null, "values": [0, 30, 70, 100], "labelFlush": true, "labelOverlap": false}}, "text": {"field": "t"}}}
    ]
  }
]
}
